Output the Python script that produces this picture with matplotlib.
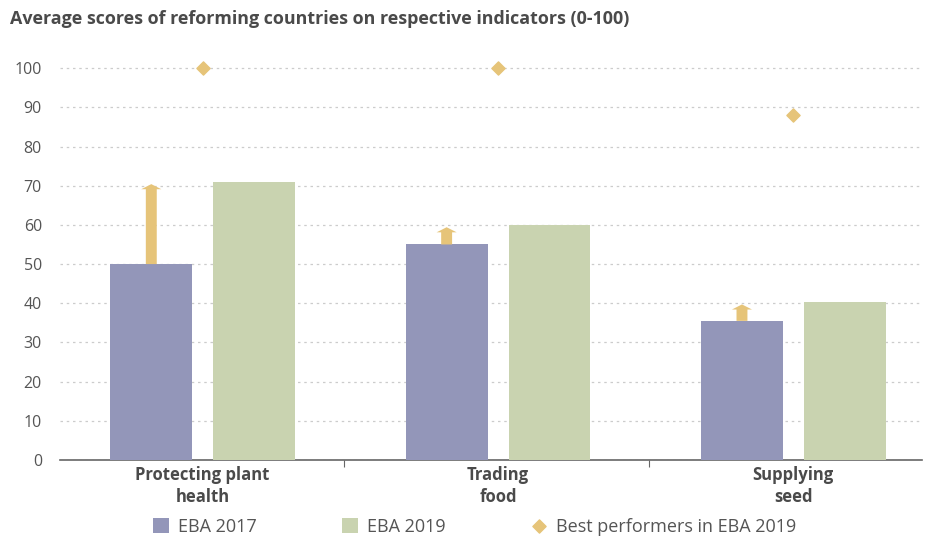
import matplotlib.pyplot as plt
import numpy as np

# Data
categories = ['Protecting plant\nhealth', 'Trading\nfood', 'Supplying\nseed']
eba_2017 = [50, 55, 35.5]
eba_2019 = [71, 60, 40.3]
best_2019 = [100, 100, 88]
y_ticks = [0, 10, 20, 30, 40, 50, 60, 70, 80, 90, 100]

col_2017 = '#9396b9'
col_2019 = '#c9d3b0'
col_best = '#e6c479'
txt = '#4a4a4a'

plt.rcParams['font.family'] = ['Open Sans', 'DejaVu Sans']

fig = plt.figure(figsize=(9.25, 5.36), dpi=100)
ax = fig.add_axes([0.0649, 0.1418, 0.9320, 0.753])

x = np.arange(len(categories))
w = 0.277
off = 0.174

b1 = ax.bar(x - off, eba_2017, width=w, color=col_2017, zorder=3, label='EBA 2017')
b2 = ax.bar(x + off, eba_2019, width=w, color=col_2019, zorder=3, label='EBA 2019')
sc = ax.scatter(x, best_2019, marker='D', s=45, color=col_best, zorder=4,
                label='Best performers in EBA 2019')

# arrows showing change from 2017 to 2019
for xi, a, b in zip(x, eba_2017, eba_2019):
    ax.arrow(xi - off, a, 0, (b - 0.6) - a, width=0.037, head_width=0.068,
             head_length=1.3, length_includes_head=True, color=col_best,
             zorder=4, lw=0)

ax.set_xlim(-0.483, 2.436)
ax.set_ylim(0, 103)
ax.set_yticks(y_ticks)
ax.grid(axis='y', linestyle=(0, (2, 3)), color='#cccccc', lw=0.9, zorder=0)
ax.tick_params(axis='y', length=0, labelsize=11.5, labelcolor='#555555', pad=13)

ax.set_xticks([0.48, 1.51])
ax.set_xticklabels([])
ax.tick_params(axis='x', length=5, color='#666666', direction='out')
for xi, c in zip(x, categories):
    ax.text(xi, -1.6, c, ha='center', va='top', fontsize=12, fontweight='bold',
            color=txt, linespacing=1.3)

for s in ['top', 'right', 'left']:
    ax.spines[s].set_visible(False)
ax.spines['bottom'].set_color('#666666')
ax.spines['bottom'].set_linewidth(1.2)

fig.text(0.011, 0.965, 'Average scores of reforming countries on respective indicators (0-100)',
         fontsize=12.9, fontweight='bold', color=txt, va='center')

leg = fig.legend([b1, b2, sc], ['EBA 2017', 'EBA 2019', 'Best performers in EBA 2019'],
                 loc='center', bbox_to_anchor=(0.513, 0.017), ncol=3,
                 frameon=False, fontsize=13, columnspacing=4.7, handletextpad=0.5,
                 handlelength=0.9, handleheight=0.9)
for t in leg.get_texts():
    t.set_color('#555555')

fig.savefig('out.png', dpi=100)
